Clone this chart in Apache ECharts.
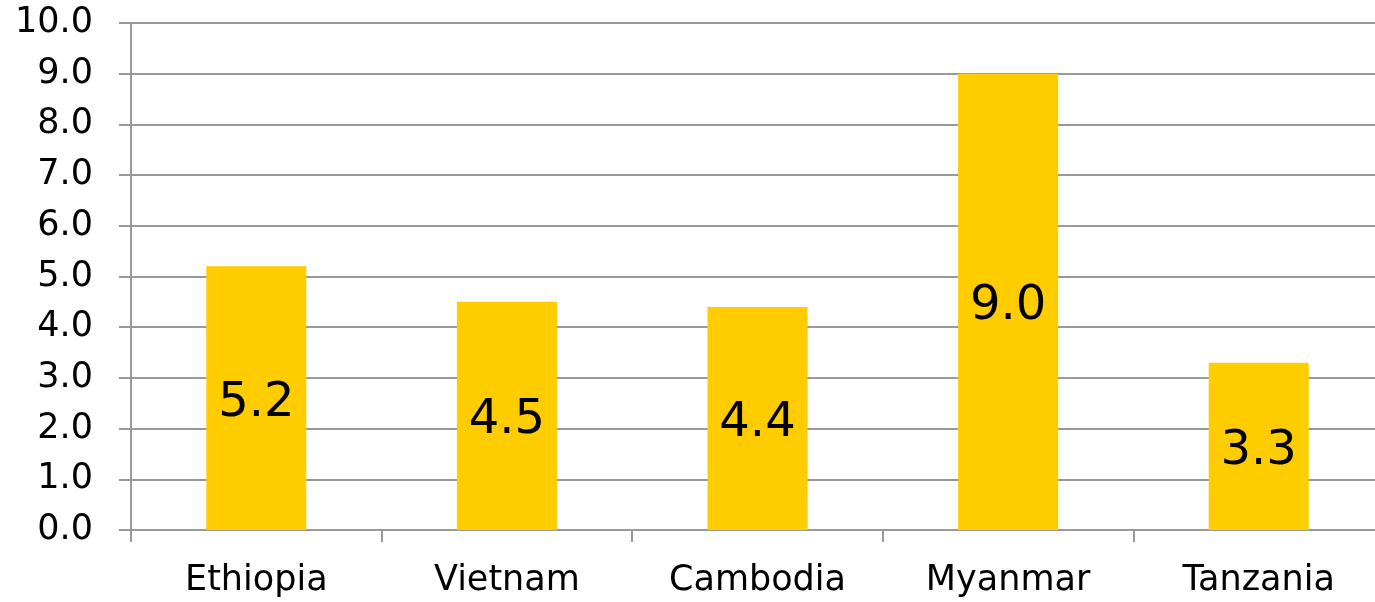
<!DOCTYPE html>
<html><head><meta charset="utf-8">
<script src="https://cdn.jsdelivr.net/npm/echarts@6/dist/echarts.min.js"></script>
<style>html,body{margin:0;padding:0;background:#fff}#c{width:1375px;height:602px}</style>
</head><body><div id="c"></div>
<script>
const categories = ["Ethiopia", "Vietnam", "Cambodia", "Myanmar", "Tanzania"];
const values = [5.2, 4.5, 4.4, 9.0, 3.3];
const chart = echarts.init(document.getElementById('c'), null, {renderer: 'canvas'});
const font = "DejaVu Sans";
chart.setOption({
  animation: false,
  grid: {left: 131, width: 1253, top: 23, height: 507, containLabel: false, outerBoundsMode: 'none'},
  xAxis: {
    type: 'category', data: categories,
    axisLine: {lineStyle: {color: '#999', width: 2}},
    axisTick: {show: true, length: 12, lineStyle: {color: '#999', width: 2}, alignWithLabel: false},
    axisLabel: {color: '#000', fontSize: 35, fontFamily: font, margin: 33}
  },
  yAxis: {
    type: 'value', min: 0, max: 10, interval: 1,
    axisLine: {show: true, lineStyle: {color: '#999', width: 2}},
    axisTick: {show: true, length: 12, lineStyle: {color: '#999', width: 2}},
    splitLine: {lineStyle: {color: '#999', width: 2}},
    axisLabel: {color: '#000', fontSize: 35, fontFamily: font, margin: 38,
      formatter: v => v.toFixed(1)}
  },
  series: [{
    type: 'bar', data: values, barWidth: 100,
    itemStyle: {color: '#FFCC00'},
    label: {show: true, position: 'inside', offset: [0, 5], color: '#000', fontSize: 48, fontFamily: font,
      formatter: p => p.value.toFixed(1)}
  }]
});
</script></body></html>
